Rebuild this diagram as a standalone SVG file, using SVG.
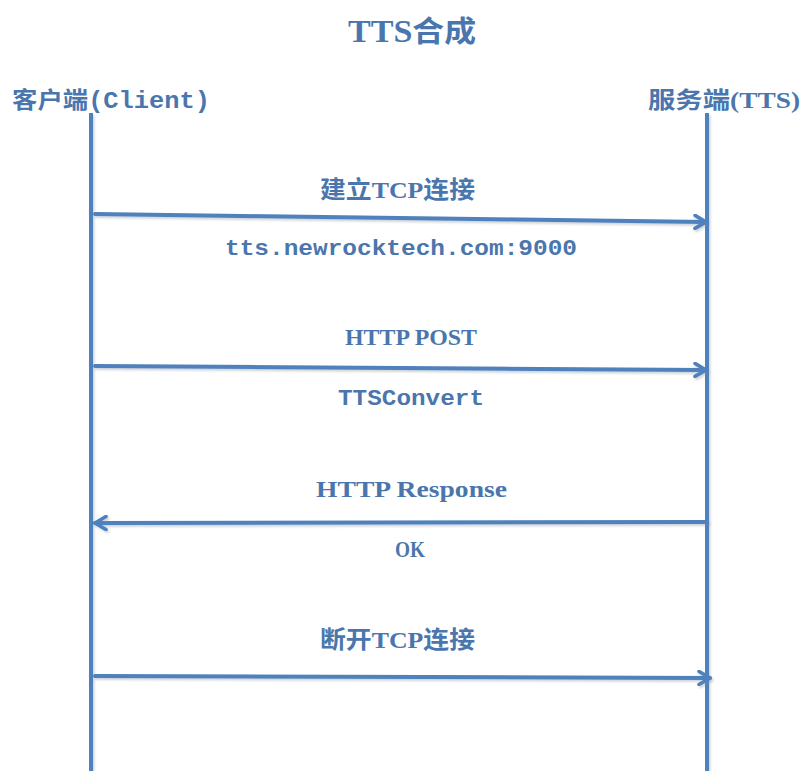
<svg xmlns="http://www.w3.org/2000/svg" width="804" height="771" viewBox="0 0 804 771">
  <defs>
    <style>
      .lbl { fill: #4a76ad; font-family: "Liberation Serif", "Noto Sans CJK SC", serif; font-weight: bold; }
      .cjk { font-family: "Noto Sans CJK SC", "Liberation Serif", sans-serif; font-weight: bold; }
      .mono { font-family: "Liberation Mono", "Noto Sans CJK SC", monospace; font-weight: bold; }
      .life { stroke: #4f81bd; stroke-width: 4; fill: none; }
      .msg { stroke: #4f81bd; stroke-width: 4; fill: none; stroke-linecap: round; }
    </style>
    <marker id="head" viewBox="0 0 16 16" refX="13" refY="8" markerWidth="16" markerHeight="16" markerUnits="userSpaceOnUse" orient="auto">
      <path d="M2 1.5 L13 8 L2 14.5" fill="none" stroke="#4f81bd" stroke-width="3.6" stroke-linecap="round" stroke-linejoin="round"/>
    </marker>
    <!-- soft drop shadow under every line; region in user space so thin lines keep it -->
    <filter id="shade" filterUnits="userSpaceOnUse" x="0" y="0" width="804" height="771">
      <feDropShadow dx="1.5" dy="2" stdDeviation="1.2" flood-color="#7a8699" flood-opacity="0.35"/>
    </filter>
  </defs>
  <rect width="804" height="771" fill="#ffffff"/>

  <!-- title -->
  <text class="lbl" x="348" y="42" font-size="31" textLength="128" lengthAdjust="spacingAndGlyphs"><tspan>TTS</tspan><tspan class="cjk" font-size="29">合成</tspan></text>

  <!-- participants -->
  <g id="client">
    <text class="lbl" x="12" y="108" font-size="23" textLength="198" lengthAdjust="spacingAndGlyphs"><tspan class="cjk">客户端</tspan><tspan class="mono">(Client)</tspan></text>
    <line class="life" x1="91" y1="113" x2="91" y2="771" filter="url(#shade)"/>
  </g>
  <g id="server">
    <text class="lbl" x="648" y="108" font-size="23" textLength="152" lengthAdjust="spacingAndGlyphs"><tspan class="cjk">服务端</tspan><tspan>(TTS)</tspan></text>
    <line class="life" x1="707" y1="113" x2="707" y2="771" filter="url(#shade)"/>
  </g>

  <!-- messages -->
  <g id="connectors" filter="url(#shade)">
    <line class="msg" x1="95" y1="214" x2="706" y2="222" marker-end="url(#head)"/>
    <line class="msg" x1="95" y1="366" x2="706" y2="370" marker-end="url(#head)"/>
    <line class="msg" x1="707" y1="522" x2="95" y2="523" marker-end="url(#head)"/>
    <line class="msg" x1="95" y1="676" x2="710" y2="678" marker-end="url(#head)"/>
  </g>

  <!-- message labels -->
  <g id="label-connect">
    <text class="lbl" x="320" y="198" font-size="24" textLength="155" lengthAdjust="spacingAndGlyphs"><tspan class="cjk">建立</tspan><tspan>TCP</tspan><tspan class="cjk">连接</tspan></text>
    <text class="lbl mono" x="225" y="255" font-size="22" textLength="352" lengthAdjust="spacingAndGlyphs">tts.newrocktech.com:9000</text>
  </g>
  <g id="label-post">
    <text class="lbl" x="345" y="345" font-size="23" textLength="132" lengthAdjust="spacingAndGlyphs">HTTP POST</text>
    <text class="lbl mono" x="338" y="405" font-size="22" textLength="146" lengthAdjust="spacingAndGlyphs">TTSConvert</text>
  </g>
  <g id="label-response">
    <text class="lbl" x="316" y="497" font-size="23" textLength="191" lengthAdjust="spacingAndGlyphs">HTTP Response</text>
    <text class="lbl" x="395" y="557" font-size="23" textLength="30" lengthAdjust="spacingAndGlyphs">OK</text>
  </g>
  <g id="label-close">
    <text class="lbl" x="320" y="648" font-size="24" textLength="155" lengthAdjust="spacingAndGlyphs"><tspan class="cjk">断开</tspan><tspan>TCP</tspan><tspan class="cjk">连接</tspan></text>
  </g>
</svg>
